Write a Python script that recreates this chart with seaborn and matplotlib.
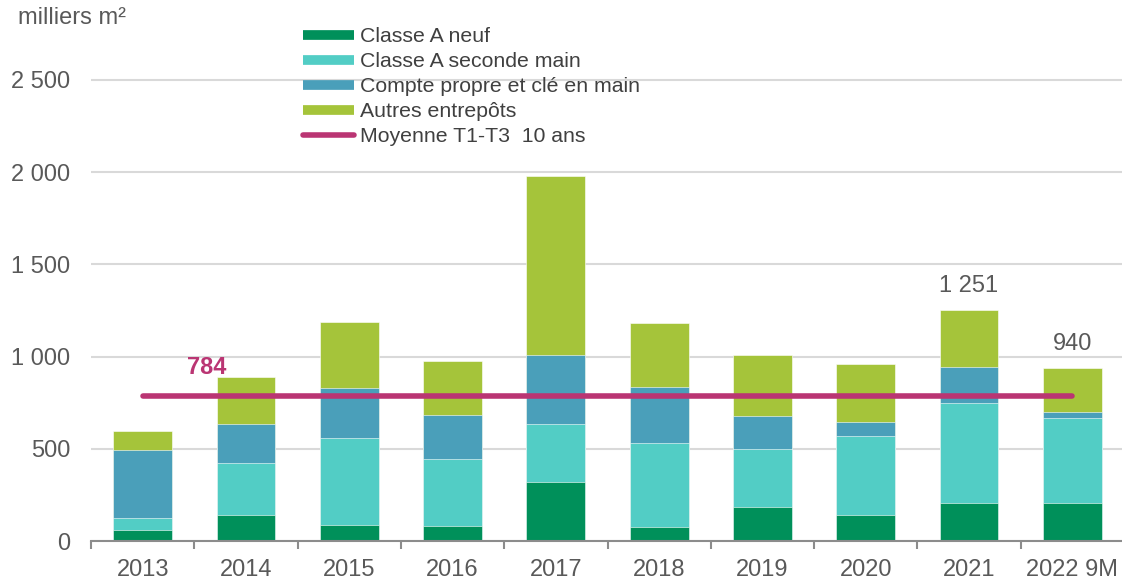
import matplotlib
matplotlib.use("Agg")
import matplotlib.pyplot as plt
from matplotlib.lines import Line2D
import seaborn as sns
import numpy as np
import pandas as pd

years = ["2013", "2014", "2015", "2016", "2017", "2018", "2019", "2020", "2021", "2022 9M"]
classe_a_neuf = [57, 142, 87, 79, 321, 74, 186, 142, 204, 204]
classe_a_seconde = [69, 281, 471, 367, 314, 458, 314, 428, 547, 464]
compte_propre = [370, 211, 274, 235, 376, 304, 177, 78, 195, 32]
autres = [100, 254, 356, 294, 969, 347, 331, 314, 305, 240]
moyenne = 784
labels_tot = {"2021": "1 251", "2022 9M": "940"}

series_names = ["Classe A neuf", "Classe A seconde main", "Compte propre et clé en main", "Autres entrepôts"]
colors = ["#00905A", "#52CDC5", "#4A9FBA", "#A5C43A"]
line_color = "#BA3573"
text_color = "#595959"

sns.set_theme(style="white")
plt.rcParams["font.family"] = ["Liberation Sans", "DejaVu Sans"]

df = pd.DataFrame({"year": years, "n": classe_a_neuf, "s": classe_a_seconde,
                   "c": compte_propre, "a": autres})
df["c1"] = df["n"]
df["c2"] = df["c1"] + df["s"]
df["c3"] = df["c2"] + df["c"]
df["c4"] = df["c3"] + df["a"]

W, H = 1122, 584
fig = plt.figure(figsize=(W / 100, H / 100), dpi=100)
ax_left, ax_right, ax_bottom, ax_top = 91, 1124, 541, 30
ax = fig.add_axes([ax_left / W, 1 - ax_bottom / H, (ax_right - ax_left) / W, (ax_bottom - ax_top) / H])

px_per_unit = 92.2 / 500
ymax = (ax_bottom - ax_top) / px_per_unit

for col, color in zip(["c4", "c3", "c2", "c1"], colors[::-1]):
    sns.barplot(data=df, x="year", y=col, color=color, width=0.57, ax=ax,
                saturation=1, edgecolor="white", linewidth=0.4, zorder=3)

ax.set_xlim(-0.5, 9.5)
ax.set_ylim(0, ymax)
ax.set_xlabel("")
ax.set_ylabel("")

fs = 17

# grid
ax.set_yticks([0, 500, 1000, 1500, 2000, 2500])
ax.set_yticklabels(["0", "500", "1 000", "1 500", "2 000", "2 500"])
ax.yaxis.grid(True, color="#D9D9D9", linewidth=1.5, zorder=0)
ax.set_axisbelow(True)
ax.tick_params(axis="y", length=0, pad=15, labelsize=fs, labelcolor=text_color)

ax.set_xticks(range(len(years)))
ax.set_xticklabels(years)
ax.set_xticks(np.arange(-0.5, len(years), 1.0), minor=True)
ax.tick_params(axis="x", which="major", length=0, pad=13, labelsize=fs, labelcolor=text_color)
ax.tick_params(axis="x", which="minor", length=6, width=1.5, color="#8C8C8C", direction="out", bottom=True)

for s in ["top", "right", "left"]:
    ax.spines[s].set_visible(False)
ax.spines["bottom"].set_color("#8C8C8C")
ax.spines["bottom"].set_linewidth(1.5)
ax.spines["bottom"].set_zorder(5)

# average line
ax.plot([0, len(years) - 1], [moyenne, moyenne], color=line_color, linewidth=4,
        solid_capstyle="round", zorder=6)
ax.text(0.62, moyenne + 158, str(moyenne), color=line_color, fontsize=fs,
        fontweight="bold", ha="center", va="center", zorder=7)

# totals labels
for i, y in enumerate(years):
    if y in labels_tot:
        tot = df.loc[i, "c4"]
        ax.text(i, tot + 130, labels_tot[y], ha="center", va="center",
                fontsize=fs, color=text_color)

# unit label
fig.text(18 / W, 1 - 18 / H, "milliers m²", fontsize=fs, color=text_color,
         ha="left", va="center")

# legend
handles = [Line2D([0], [0], color=c, linewidth=7, solid_capstyle="butt") for c in colors]
handles.append(Line2D([0], [0], color=line_color, linewidth=4, solid_capstyle="round"))
labels = series_names + ["Moyenne T1-T3  10 ans"]
leg = fig.legend(handles, labels, loc="upper left", bbox_to_anchor=(303 / W, 1 - 27 / H),
                 frameon=False, fontsize=15.3, handlelength=2.4, handletextpad=0.3,
                 labelspacing=0.285, borderpad=0, borderaxespad=0)
for t in leg.get_texts():
    t.set_color("#404040")

fig.savefig("out.png", dpi=100)
